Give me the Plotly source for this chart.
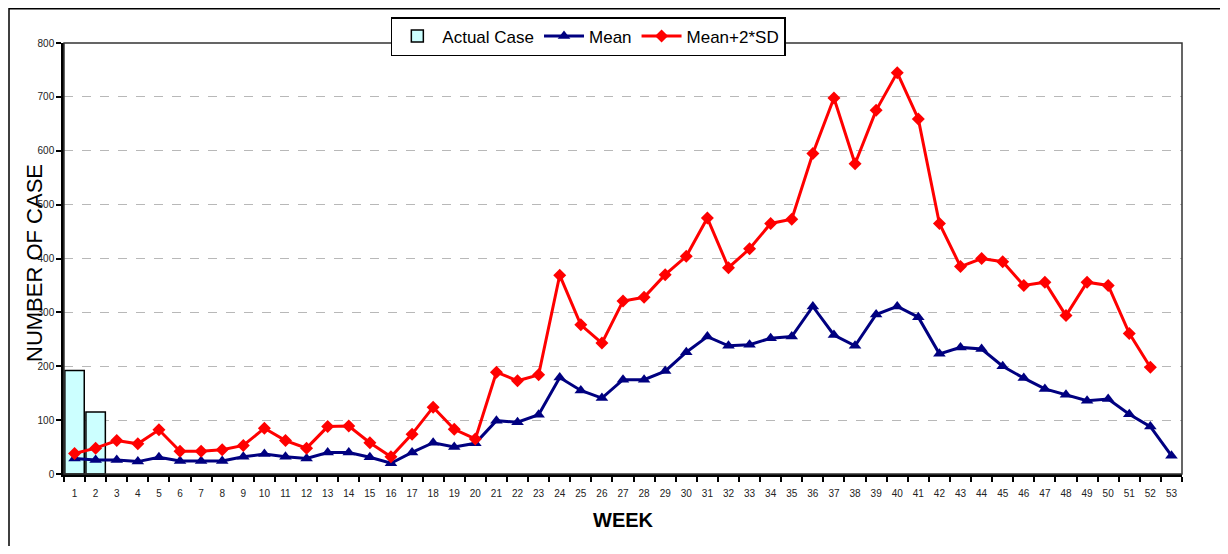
import plotly.graph_objects as go

weeks = [str(i) for i in range(1, 54)]
actual_weeks = ["1", "2"]
actual_case = [192, 115]
mean = [29, 26, 26, 23, 31, 24, 24, 24, 32, 37,
        32, 29, 40, 40, 31, 20, 40, 58, 50, 57,
        99, 96, 110, 179, 155, 141, 175, 175, 191, 226,
        255, 238, 240, 252, 255, 311, 258, 238, 296, 311,
        291, 223, 235, 232, 200, 178, 158, 147, 136, 139,
        111, 88, 34]
mean_2sd = [38, 48, 62, 56, 82, 42, 42, 45, 53, 85,
            62, 48, 88, 89, 58, 32, 74, 124, 83, 65,
            189, 173, 184, 369, 277, 243, 321, 328, 370, 404,
            475, 383, 418, 465, 473, 595, 698, 576, 675, 745,
            659, 465, 385, 400, 394, 350, 356, 294, 356, 350,
            261, 198]

FONT = "Liberation Sans, Arial, sans-serif"

fig = go.Figure()
fig.add_trace(go.Bar(
    x=actual_weeks, y=actual_case, name="Actual Case",
    marker=dict(color="#CCFFFF", line=dict(color="black", width=1.5)),
))
fig.add_trace(go.Scatter(
    x=weeks, y=mean, name="Mean", mode="lines+markers",
    line=dict(color="#000080", width=3),
    marker=dict(symbol="triangle-up", size=11, color="#000080"),
))
fig.add_trace(go.Scatter(
    x=weeks[:len(mean_2sd)], y=mean_2sd, name="Mean+2*SD", mode="lines+markers",
    line=dict(color="#FF0000", width=3),
    marker=dict(symbol="diamond", size=10, color="#FF0000"),
))

# page has an 8px body margin, so the figure is laid out 8px smaller
OFF = 8
W, H = 1228 - OFF, 554 - 2 * OFF
L, T = 64 - OFF, 43 - OFF
R, B = W - (1182 - OFF), H - (474 - OFF)
pw, ph = W - L - R, H - T - B

# outer chart frame
fig.add_shape(type="rect", xref="paper", yref="paper",
              x0=(9 - OFF - L) / pw, x1=(1226 - OFF - L) / pw,
              y0=-0.4, y1=(H - B - 0.8) / ph,
              line=dict(color="black", width=1.5), layer="below")
# plot area border
fig.add_shape(type="rect", xref="paper", yref="paper",
              x0=0, x1=1, y0=0, y1=1,
              line=dict(color="#333333", width=1.5), layer="above")

# y-axis title placed as annotation
fig.add_annotation(
    text="NUMBER OF CASE", textangle=-90, showarrow=False,
    xref="paper", yref="paper",
    x=(35 - 64) / pw, y=(474 - 263) / ph,
    xanchor="center", yanchor="middle",
    font=dict(size=22, family=FONT, color="black"),
)

fig.update_layout(
    width=W, height=H,
    margin=dict(l=L, r=R, t=T, b=B, autoexpand=False),
    paper_bgcolor="white", plot_bgcolor="white",
    font=dict(family=FONT, color="black"),
    bargap=0.08,
    showlegend=True,
    legend=dict(
        orientation="h", x=0.469, xanchor="center",
        y=(H - B - (17 - OFF)) / ph, yanchor="top",
        bgcolor="white", bordercolor="black", borderwidth=1.5,
        font=dict(size=17, family=FONT, color="black"),
        itemwidth=40, tracegroupgap=0,
    ),
    xaxis=dict(
        type="category", categoryorder="array", categoryarray=weeks,
        tickson="boundaries", ticks="outside", ticklen=5, tickwidth=1.5,
        tickcolor="black", ticklabelstandoff=8,
        showline=True, linecolor="black", linewidth=2.5,
        showgrid=False, automargin=False,
        tickfont=dict(size=10, family=FONT, color="#222222"),
        title=dict(text="<b>WEEK</b>", font=dict(size=20, family=FONT, color="black"), standoff=16),
        range=[-0.5, 52.5],
    ),
    yaxis=dict(
        range=[0, 800], dtick=100, automargin=False,
        ticks="outside", ticklen=5, tickwidth=1.5, tickcolor="black",
        showline=True, linecolor="black", linewidth=2.5,
        showgrid=True, gridcolor="#B8B8B8", griddash="dash", gridwidth=1.2,
        zeroline=False,
        tickfont=dict(size=10, family=FONT, color="#222222"),
    ),
)

fig.write_html("out.html")
